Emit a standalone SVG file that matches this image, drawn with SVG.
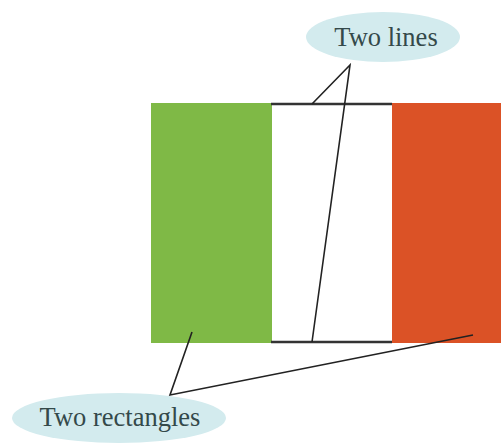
<svg xmlns="http://www.w3.org/2000/svg" width="501" height="448" viewBox="0 0 501 448">
<style>
.lbl{font-family:"Liberation Serif","DejaVu Serif",serif;font-size:26.5px;fill:#34494a;text-anchor:middle}
.bub{fill:#d3ebee}
.con{stroke:#222;stroke-width:1.6;fill:none}
.edge{stroke:#333;stroke-width:2.6}
</style>
<rect width="501" height="448" fill="#fff"/>
<g id="green-rect"><rect x="151" y="103" width="121" height="240" fill="#7fb946"/></g>
<g id="red-rect"><rect x="392" y="103" width="109" height="240" fill="#db5226"/></g>
<g id="top-line"><line class="edge" x1="271" y1="104" x2="392" y2="104"/></g>
<g id="bottom-line"><line class="edge" x1="271" y1="342" x2="392" y2="342"/></g>
<g id="connectors">
<polyline class="con" points="312,104 350,65 312,342"/>
<polyline class="con" points="192,332 170,395 473,335"/>
</g>
<g id="callout-lines">
<ellipse class="bub" cx="383" cy="37" rx="77" ry="25"/>
<text class="lbl" x="386" y="46">Two lines</text>
</g>
<g id="callout-rects">
<ellipse class="bub" cx="119" cy="418" rx="107" ry="25"/>
<text class="lbl" x="120" y="426">Two rectangles</text>
</g>
</svg>
